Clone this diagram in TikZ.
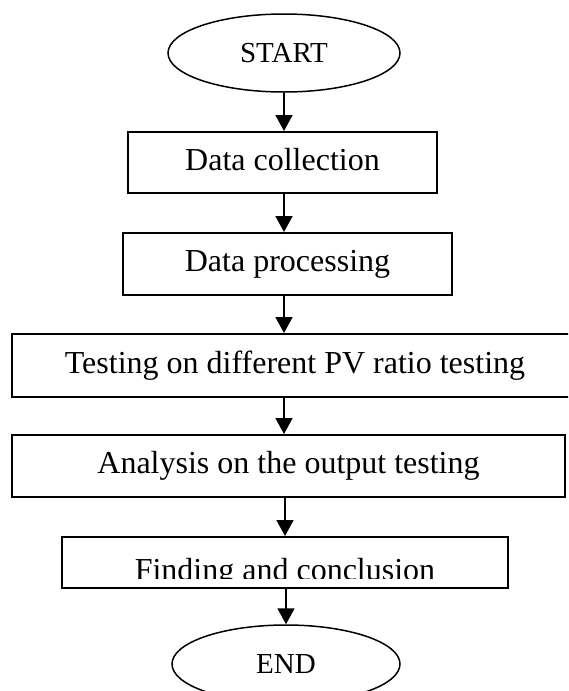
\documentclass[tikz,border=0pt]{standalone}
\usepackage{fontspec}
\setmainfont{Liberation Serif}
\usetikzlibrary{shapes.geometric,arrows.meta}

\begin{document}
\begin{tikzpicture}[
    x=0.5pt, y=-0.5pt,
    font=\fontsize{16}{19}\selectfont,
    terminal/.style={draw=ink, ellipse, line width=0.75pt, inner sep=0pt,
      font=\fontsize{14.5}{17}\selectfont},
    stepbox/.style={draw=ink, line width=1pt, inner sep=0pt,
      text height=0.75em, text depth=0pt},
    flow/.style={draw=ink, line width=0.9pt,
      -{Triangle[width=8.5pt, length=8pt]}}
]
\definecolor{ink}{HTML}{000000}

\def\px{0.5pt}

% page frame; the wide step and the last oval run off it
\clip (0,0) rectangle (568,691);

% terminals
\node[terminal, minimum width=232*\px, minimum height=78*\px]
  (start) at (284,53) {START};
\node[terminal, minimum width=228*\px, minimum height=78*\px]
  (stop) at (286,664) {END};

% steps, top to bottom
\node[stepbox, minimum width=309*\px, minimum height=61*\px]
  (collect) at (282.5,162.5) {Data collection};
\node[stepbox, minimum width=329*\px, minimum height=62*\px]
  (proc) at (287.5,264) {Data processing};
\node[stepbox, minimum width=566*\px, minimum height=63*\px]
  (test) at (295,365.5) {Testing on different PV ratio testing};
\node[stepbox, minimum width=553*\px, minimum height=62*\px]
  (anal) at (288.5,466) {Analysis on the output testing};
\node[stepbox, minimum width=446*\px, minimum height=51*\px]
  (find) at (285,562.5) {};

% text of the last step is cut off by the frame margin
\begin{scope}
  \clip (find.north west) rectangle ([yshift=5.5pt]find.south east);
  \node[anchor=base, inner sep=0pt] (findtext) at (285,580) {Finding and conclusion};
\end{scope}

% arrows
\draw[flow] (start.south) -- (start.south |- collect.north);
\draw[flow] (collect.south -| start) -- (proc.north -| start);
\draw[flow] (proc.south -| start) -- (test.north -| start);
\draw[flow] (test.south -| start) -- (anal.north -| start);
\draw[flow] (anal.south -| find) -- (find.north);
\draw[flow] (find.south -| stop) -- (stop.north);
\end{tikzpicture}
\end{document}
